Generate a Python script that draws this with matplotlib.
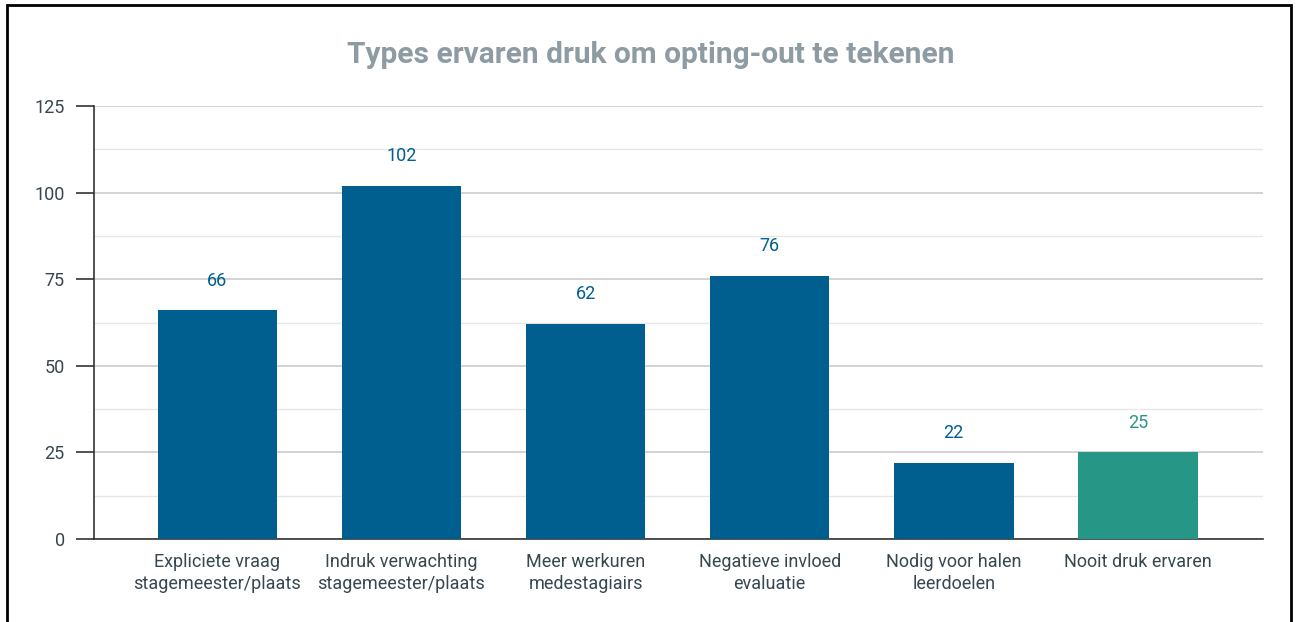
import matplotlib
matplotlib.use("Agg")
import matplotlib.pyplot as plt
from matplotlib.patches import Rectangle
from matplotlib.ticker import MultipleLocator

categories = ["Expliciete vraag\nstagemeester/plaats", "Indruk verwachting\nstagemeester/plaats",
              "Meer werkuren\nmedestagiairs", "Negatieve invloed\nevaluatie",
              "Nodig voor halen\nleerdoelen", "Nooit druk ervaren"]
values = [66, 102, 62, 76, 22, 25]
colors = ["#005f8f", "#005f8f", "#005f8f", "#005f8f", "#005f8f", "#269686"]
title = "Types ervaren druk om opting-out te tekenen"

plt.rcParams['font.family'] = ['Roboto', 'DejaVu Sans']
fig = plt.figure(figsize=(12.98, 6.22), dpi=100)
ax = fig.add_axes([94/1298, 1-539/622, (1263-94)/1298, (539-106)/622])

x = range(len(categories))
ax.bar(x, values, width=0.65, color=colors, zorder=3)
for xi, v, c in zip(x, values, colors):
    ax.annotate(str(v), (xi, v), xytext=(0, 15), textcoords="offset points",
                ha="center", va="bottom", color=c, fontsize=13)

ax.set_xlim(-0.67, 5.68)
ax.set_ylim(0, 125)
ax.yaxis.set_major_locator(MultipleLocator(25))
ax.yaxis.set_minor_locator(MultipleLocator(12.5))
ax.grid(axis="y", which="major", color="#cccccc", lw=1.2, zorder=0)
ax.grid(axis="y", which="minor", color="#e6e6e6", lw=1.0, zorder=0)
ax.set_xticks(list(x))
ax.set_xticklabels(categories, fontsize=13, color="#37474f", linespacing=1.3)
ax.tick_params(axis="x", length=0, pad=10)
ax.tick_params(axis="y", which="major", length=13, width=1.2, color="#333333",
               labelsize=13, labelcolor="#37474f", pad=8)
ax.tick_params(axis="y", which="minor", length=0)
for s in ["top", "right"]:
    ax.spines[s].set_visible(False)
ax.spines["left"].set_color("#333333")
ax.spines["bottom"].set_color("#333333")
ax.spines["left"].set_linewidth(1.2)
ax.spines["bottom"].set_linewidth(1.2)

fig.text(651/1298, 1-55/622, title, ha="center", va="center", fontsize=21.5,
         fontweight="bold", color="#8e9ba3")

fig.patches.append(Rectangle((7/1298, -0.05), (1291-7)/1298, 1.05-5/622,
                             transform=fig.transFigure, fill=False, ec="black", lw=2))

fig.savefig("out.png", dpi=100)
